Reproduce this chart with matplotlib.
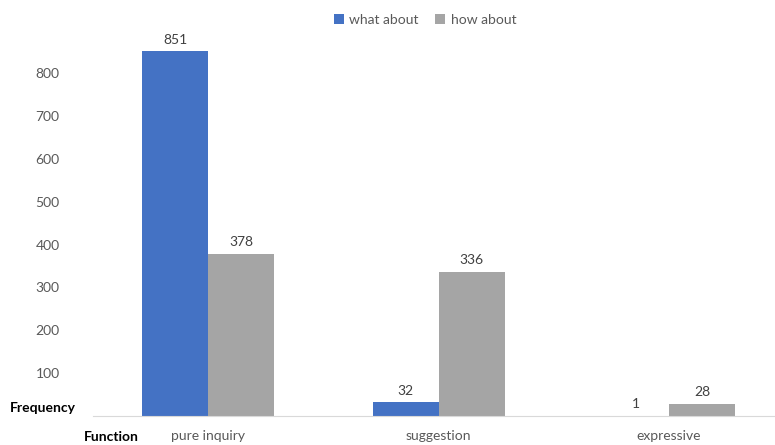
import matplotlib
matplotlib.use("Agg")
import matplotlib.pyplot as plt
import numpy as np

categories = ["pure inquiry", "suggestion", "expressive"]
what_about = [851, 32, 1]
how_about = [378, 336, 28]
series_names = ["what about", "how about"]
yticks = [100, 200, 300, 400, 500, 600, 700, 800]

blue = "#4472C4"
grey = "#A5A5A5"
txt = "#595959"

plt.rcParams['font.family'] = ['Lato', 'DejaVu Sans']

fig = plt.figure(figsize=(7.75, 4.45), dpi=100)
ax = fig.add_axes([93/775, 1-416/445, 1-93/775, (416-30.3)/445])

x = np.arange(len(categories))
w = 0.286
b1 = ax.bar(x - w/2, what_about, w, color=blue, label=series_names[0])
b2 = ax.bar(x + w/2, how_about, w, color=grey, label=series_names[1])

for bars, vals in ((b1, what_about), (b2, how_about)):
    for r, v in zip(bars, vals):
        ax.annotate(str(v), (r.get_x() + r.get_width()/2, v), xytext=(0, 4),
                    textcoords="offset points", ha="center", va="bottom",
                    fontsize=10, color="#404040")

ax.set_xlim(-0.5, 2.46)
ax.set_ylim(0, 900)
ax.set_yticks(yticks)
ax.set_xticks(x)
ax.set_xticklabels(categories)
ax.tick_params(axis='both', length=0, labelsize=10, colors=txt)
ax.tick_params(axis='y', pad=24)
ax.tick_params(axis='x', pad=10)
for s in ["top", "right", "left"]:
    ax.spines[s].set_visible(False)
ax.spines["bottom"].set_color("#D9D9D9")

fig.text(10/775, 1-408/445, "Frequency", fontsize=10, fontweight="bold",
         color="black", ha="left", va="center")
fig.text(84/775, 1-437/445, "Function", fontsize=10, fontweight="bold",
         color="black", ha="left", va="center")

leg = fig.legend(handles=[b1, b2], labels=series_names, loc="center",
                 bbox_to_anchor=(425/775, 1-20/445), ncol=2, frameon=False,
                 fontsize=10, handlelength=0.7, handleheight=0.7,
                 handletextpad=0.4, columnspacing=1.2)
for t in leg.get_texts():
    t.set_color(txt)

fig.savefig("out.png", dpi=100)
